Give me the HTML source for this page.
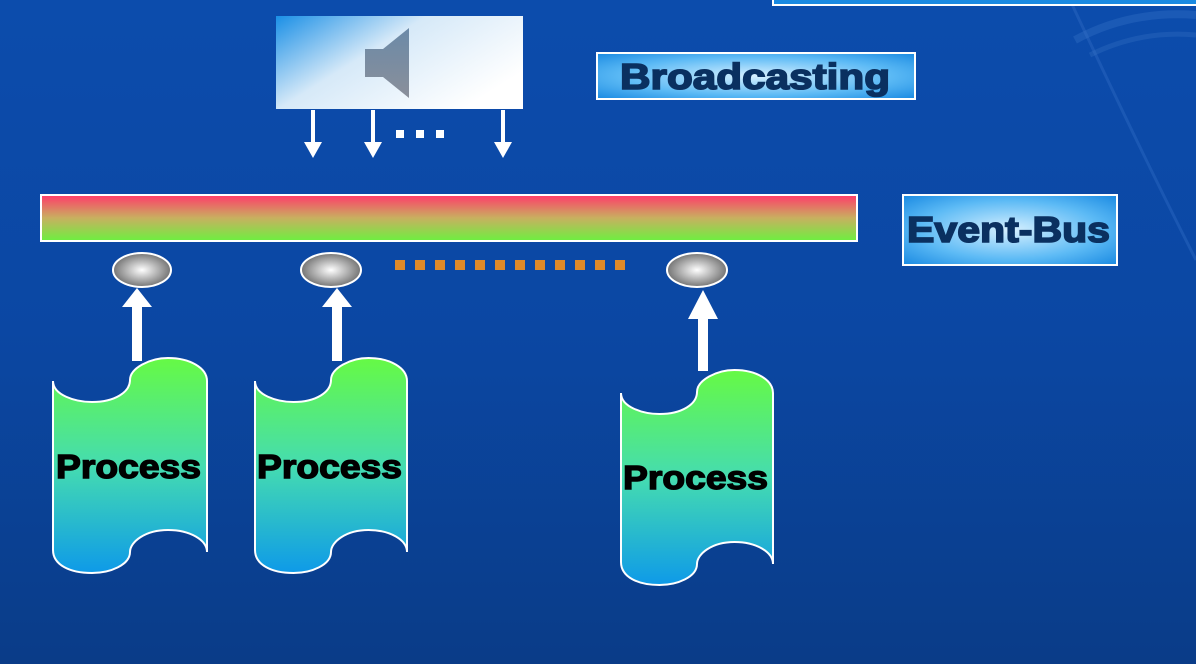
<!DOCTYPE html>
<html><head><meta charset="utf-8"><style>
html,body{margin:0;padding:0;}
body{width:1196px;height:664px;overflow:hidden;background:linear-gradient(180deg,#0c4cac 0%,#0b47a3 50%,#0a3c88 100%);position:relative;font-family:"Liberation Sans",Arial,sans-serif;}
svg{position:absolute;left:0;top:0;}
</style></head><body>
<svg width="1196" height="664" viewBox="0 0 1196 664">
<defs>
<linearGradient id="top" x1="0" y1="0" x2="1" y2="0.6">
<stop offset="0" stop-color="#1a8fe6"/><stop offset="0.45" stop-color="#d6e9f8"/><stop offset="1" stop-color="#ffffff"/></linearGradient>
<linearGradient id="bus" x1="0" y1="0" x2="0" y2="1">
<stop offset="0" stop-color="#ff3a6a"/><stop offset="0.5" stop-color="#c8b060"/><stop offset="1" stop-color="#6cf040"/></linearGradient>
<linearGradient id="proc" x1="0" y1="0" x2="0" y2="1">
<stop offset="0" stop-color="#66fa44"/><stop offset="0.5" stop-color="#45dcb0"/><stop offset="1" stop-color="#0e9ae8"/></linearGradient>
<radialGradient id="ell" cx="0.5" cy="0.5" r="0.55">
<stop offset="0" stop-color="#ffffff"/><stop offset="1" stop-color="#666"/></radialGradient>
<radialGradient id="lab" cx="0.5" cy="0.5" r="0.7">
<stop offset="0" stop-color="#d6f0ff"/><stop offset="0.6" stop-color="#5cbaf5"/><stop offset="1" stop-color="#1a8ae2"/></radialGradient>
<linearGradient id="spk" x1="0" y1="0" x2="0" y2="1">
<stop offset="0" stop-color="#6b8aa8"/><stop offset="1" stop-color="#8a8f9a"/></linearGradient>
<path id="tape" d="M0,23 C0,37 22,44 39,44 C62,44 77,34 77,22 C77,10 97,0 115,0 C137,0 154,10 154,23 L154,194 C154,182 137,172 115,172 C92,172 77,184 77,194 C77,207 57,215 39,215 C17,215 0,207 0,192 Z"/>
</defs>
<!-- decorative arcs -->
<path d="M1070,0 Q1140,150 1196,260" stroke="#2a66c0" stroke-width="3" fill="none" opacity="0.5"/>
<path d="M1075,40 Q1130,10 1196,15" stroke="#3a76c8" stroke-width="8" fill="none" opacity="0.35"/>
<path d="M1090,55 Q1140,30 1196,35" stroke="#3a76c8" stroke-width="5" fill="none" opacity="0.3"/>
<!-- top right box -->
<rect x="773" y="-10" width="430" height="15" fill="#1a8ae2" stroke="#fff" stroke-width="2"/>
<!-- speaker box -->
<rect x="276" y="16" width="247" height="93" fill="url(#top)"/>
<polygon points="365,49 383,49 409,28 409,98 383,77 365,77" fill="url(#spk)"/>
<!-- down arrows -->
<g fill="#fff">
<rect x="311" y="110" width="4" height="35"/><polygon points="304,142 322,142 313,158"/>
<rect x="371" y="110" width="4" height="35"/><polygon points="364,142 382,142 373,158"/>
<rect x="501" y="110" width="4" height="35"/><polygon points="494,142 512,142 503,158"/>
<rect x="396" y="130" width="8" height="8"/><rect x="416" y="130" width="8" height="8"/><rect x="436" y="130" width="8" height="8"/>
</g>
<!-- Broadcasting label -->
<rect x="597" y="53" width="318" height="46" fill="url(#lab)" stroke="#fff" stroke-width="2"/>
<text x="620" y="89" textLength="270" lengthAdjust="spacingAndGlyphs" font-size="36" font-weight="bold" fill="#0a3060" stroke="#0a3060" stroke-width="1.6" font-family="Liberation Sans, sans-serif">Broadcasting</text>
<!-- Event-Bus label -->
<rect x="903" y="195" width="214" height="70" fill="url(#lab)" stroke="#fff" stroke-width="2"/>
<text x="907" y="242" textLength="203" lengthAdjust="spacingAndGlyphs" font-size="36" font-weight="bold" fill="#0a3060" stroke="#0a3060" stroke-width="1.6" font-family="Liberation Sans, sans-serif">Event-Bus</text>
<!-- bus -->
<rect x="41" y="195" width="816" height="46" fill="url(#bus)" stroke="#fff" stroke-width="2"/>
<!-- ellipses -->
<g stroke="#fff" stroke-width="2" fill="url(#ell)">
<ellipse cx="142" cy="270" rx="29" ry="17"/>
<ellipse cx="331" cy="270" rx="30" ry="17"/>
<ellipse cx="697" cy="270" rx="30" ry="17"/>
</g>
<!-- orange dots -->
<g fill="#e08a28">
<rect x="395" y="260" width="10" height="10"/><rect x="415" y="260" width="10" height="10"/><rect x="435" y="260" width="10" height="10"/><rect x="455" y="260" width="10" height="10"/><rect x="475" y="260" width="10" height="10"/><rect x="495" y="260" width="10" height="10"/><rect x="515" y="260" width="10" height="10"/><rect x="535" y="260" width="10" height="10"/><rect x="555" y="260" width="10" height="10"/><rect x="575" y="260" width="10" height="10"/><rect x="595" y="260" width="10" height="10"/><rect x="615" y="260" width="10" height="10"/>
</g>
<!-- up arrows -->
<g fill="#fff">
<rect x="132" y="305" width="10" height="56"/><polygon points="122,307 152,307 137,288"/>
<rect x="332" y="305" width="10" height="56"/><polygon points="322,307 352,307 337,288"/>
<rect x="698" y="317" width="10" height="54"/><polygon points="688,319 718,319 703,290"/>
</g>
<!-- processes -->
<g stroke="#fff" stroke-width="2" fill="url(#proc)">
<use href="#tape" transform="translate(53,358)"/>
<use href="#tape" transform="translate(255,358) scale(0.987,1)"/>
<use href="#tape" transform="translate(621,370) scale(0.987,1)"/>
</g>
<g font-size="33" font-weight="bold" fill="#000" stroke="#000" stroke-width="1.4" font-family="Liberation Sans, sans-serif">
<text x="56" y="478" textLength="145" lengthAdjust="spacingAndGlyphs">Process</text>
<text x="257" y="478" textLength="145" lengthAdjust="spacingAndGlyphs">Process</text>
<text x="623" y="489" textLength="145" lengthAdjust="spacingAndGlyphs">Process</text>
</g>
</svg>
</body></html>
